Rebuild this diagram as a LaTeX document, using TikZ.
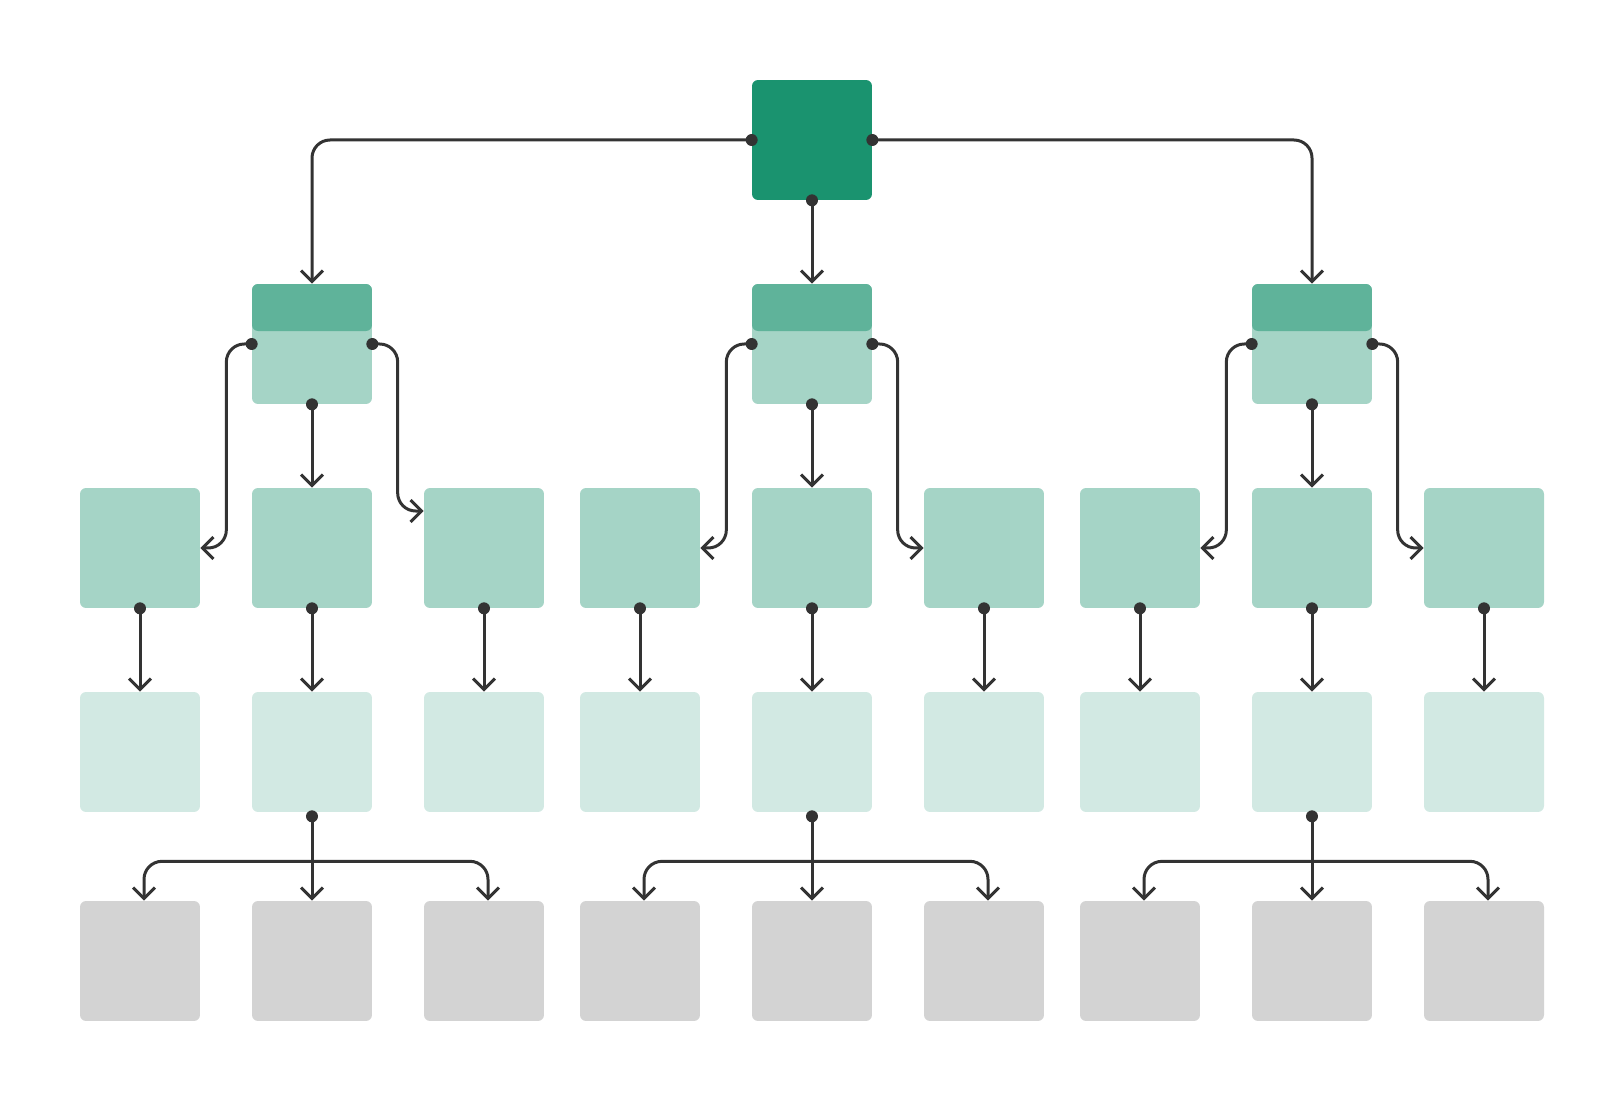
\documentclass[tikz,border=0pt]{standalone}
\usepackage{tikz}
\usetikzlibrary{positioning, arrows.meta, calc}
\definecolor{rootgreen}{RGB}{26,147,111}
\definecolor{headgreen}{RGB}{95,179,154}
\definecolor{midgreen}{RGB}{165,212,198}
\definecolor{palegreen}{RGB}{210,233,227}
\definecolor{leafgray}{RGB}{211,211,211}
\definecolor{wire}{RGB}{51,51,51}
\tikzset{
  box/.style={rectangle, minimum size=2.4cm, inner sep=0pt, rounded corners=1.2mm},
  root/.style={box, fill=rootgreen},
  branch/.style={box, fill=midgreen,
    path picture={\fill[headgreen] (path picture bounding box.north west)
      rectangle ([yshift=-0.94cm]path picture bounding box.north east);}},
  child/.style={box, fill=midgreen},
  grand/.style={box, fill=palegreen},
  leaf/.style={box, fill=leafgray},
  link/.style={draw=wire, line width=0.6mm, rounded corners=3.6mm,
    line cap=round, line join=round,
    -{Straight Barb[length=2.2mm, width=4.4mm]}},
}
\begin{document}
\begin{tikzpicture}[x=0.02cm, y=-0.02cm]
  \useasboundingbox (0,0) rectangle (1624,1101);
  \node[root] (R) at (812,140) {};
  \node[branch] (B1) at (312,344) {};
  \node[branch] (B2) at (812,344) {};
  \node[branch] (B3) at (1312,344) {};
  \foreach \x [count=\i] in {140,312,484,640,812,984,1140,1312,1484} {
    \node[child] (C\i) at (\x,548) {};
    \node[grand] (G\i) at (\x,752) {};
    \node[leaf] (L\i) at (\x,961) {};
    \draw[link] (C\i.south) -- (G\i.north);
    \fill[wire] (C\i.south) circle (0.12cm);
  }

  % root to branches
  \draw[link] (R.west) -| (B1.north);
  \draw[link] (R.east) -| (B3.north);
  \draw[link] (R.south) -- (B2.north);
  \foreach \a in {west,east,south} \fill[wire] (R.\a) circle (0.12cm);

  % branches to children, pale boxes to leaves
  \foreach \g/\l/\m/\r/\dy in {1/1/2/3/0.74cm, 2/4/5/6/0cm, 3/7/8/9/0cm} {
    \draw[link] (B\g.west) -| ([xshift=0.52cm]C\l.east) -- (C\l.east);
    \draw[link] (B\g.east) -| ([xshift=-0.52cm,yshift=\dy]C\r.west) -- ([yshift=\dy]C\r.west);
    \draw[link] (B\g.south) -- (C\m.north);
    \foreach \a in {west,east,south} \fill[wire] (B\g.\a) circle (0.12cm);

    \coordinate (J\g) at ([yshift=-0.98cm]G\m.south);
    \draw[link] (J\g) -| ([xshift=0.08cm]L\l.north);
    \draw[link] (J\g) -| ([xshift=0.08cm]L\r.north);
    \draw[link] ([yshift=-0.08cm]G\m.south) -- (L\m.north);
    \fill[wire] ([yshift=-0.08cm]G\m.south) circle (0.12cm);
  }
\end{tikzpicture}
\end{document}
